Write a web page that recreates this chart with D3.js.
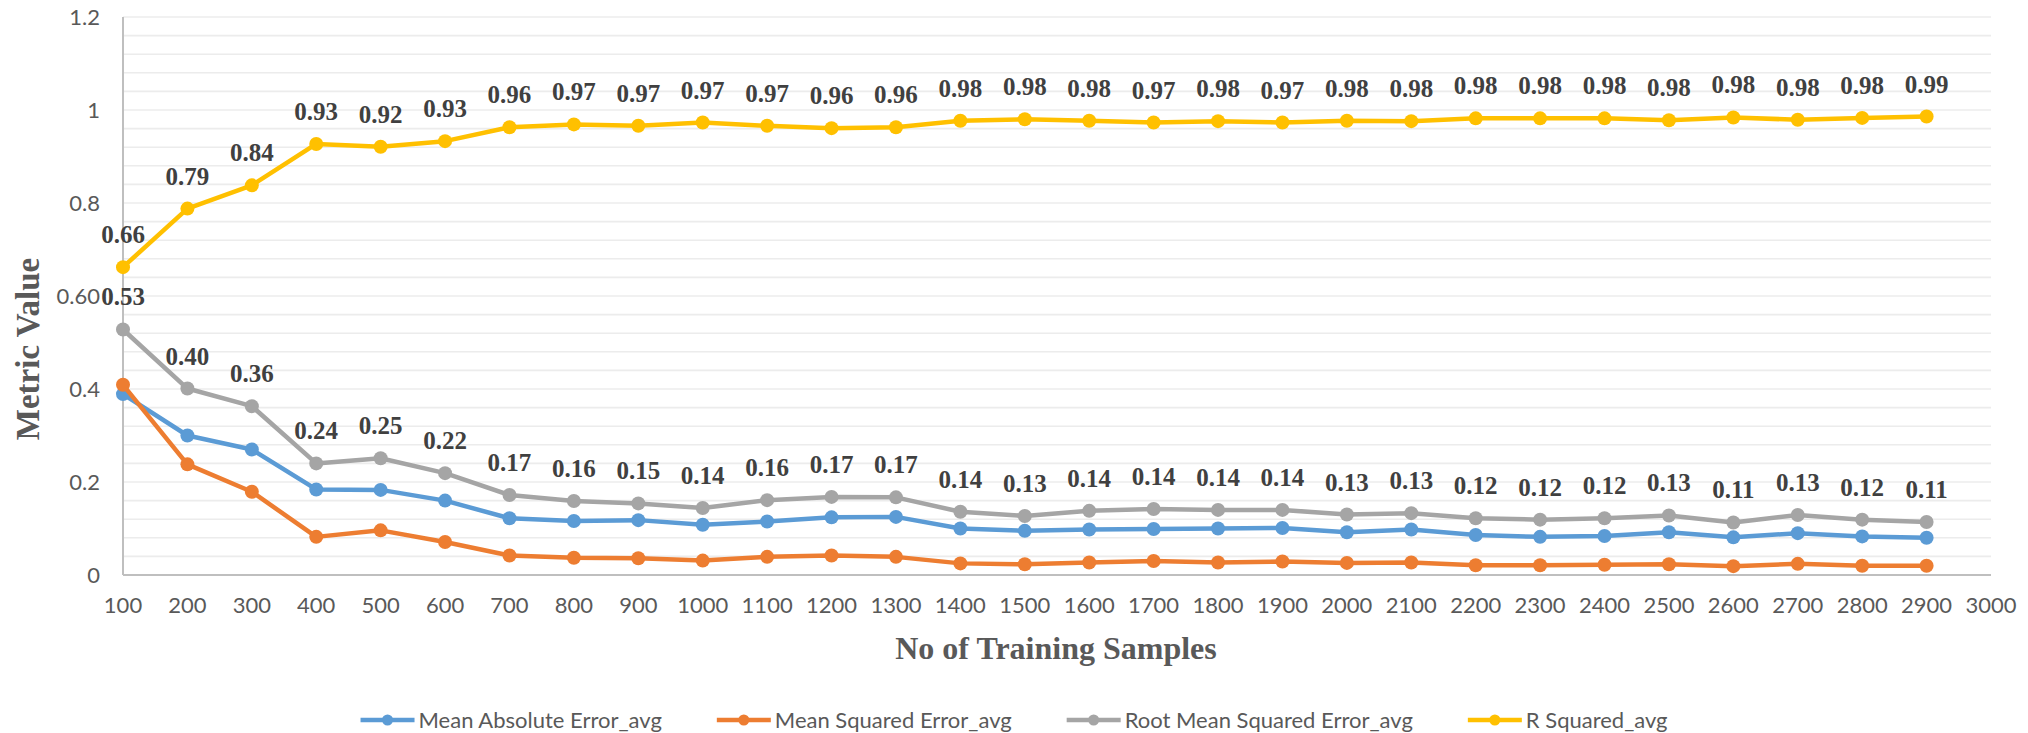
<!DOCTYPE html>
<html>
<head>
<meta charset="utf-8">
<script src="https://cdn.jsdelivr.net/npm/d3@7"></script>
<style>
  body { margin: 0; background: #fff; }
</style>
</head>
<body>
<div id="my_dataviz"></div>
<script>
// sample sizes (x categories) and axis tick labels
var samples = [100, 200, 300, 400, 500, 600, 700, 800, 900, 1000, 1100, 1200, 1300, 1400, 1500,
    1600, 1700, 1800, 1900, 2000, 2100, 2200, 2300, 2400, 2500, 2600, 2700, 2800, 2900];
var xTicks = [100, 200, 300, 400, 500, 600, 700, 800, 900, 1000, 1100, 1200, 1300, 1400, 1500,
    1600, 1700, 1800, 1900, 2000, 2100, 2200, 2300, 2400, 2500, 2600, 2700, 2800, 2900, 3000];
var yTicks = [0, 0.2, 0.4, 0.6, 0.8, 1, 1.2];
var yTickLabels = ["0", "0.2", "0.4", "0.60", "0.8", "1", "1.2"];

var maeAvg = [0.389, 0.300, 0.270, 0.184, 0.183, 0.160, 0.122, 0.116, 0.118, 0.108, 0.115, 0.124, 0.125, 0.100, 0.095,
    0.098, 0.099, 0.100, 0.101, 0.092, 0.098, 0.086, 0.082, 0.084, 0.092, 0.081, 0.090, 0.083, 0.080];
var mseAvg = [0.409, 0.238, 0.179, 0.082, 0.096, 0.071, 0.042, 0.037, 0.036, 0.031, 0.039, 0.042, 0.039, 0.025, 0.023,
    0.027, 0.030, 0.027, 0.029, 0.026, 0.027, 0.021, 0.021, 0.022, 0.023, 0.019, 0.024, 0.020, 0.020];
var rmseAvg = [0.528, 0.401, 0.363, 0.240, 0.251, 0.219, 0.172, 0.159, 0.154, 0.144, 0.161, 0.168, 0.167, 0.136, 0.127,
    0.138, 0.142, 0.140, 0.140, 0.130, 0.133, 0.122, 0.119, 0.122, 0.128, 0.113, 0.129, 0.119, 0.114];
var r2Avg = [0.662, 0.788, 0.838, 0.927, 0.921, 0.933, 0.963, 0.969, 0.966, 0.973, 0.966, 0.961, 0.963, 0.977, 0.980,
    0.977, 0.973, 0.976, 0.973, 0.977, 0.976, 0.982, 0.982, 0.982, 0.978, 0.984, 0.979, 0.983, 0.986];

var seriesNames = ["Mean Absolute Error_avg", "Mean Squared Error_avg", "Root Mean Squared Error_avg", "R Squared_avg"];
var seriesColors = ["#5B9BD5", "#ED7D31", "#A5A5A5", "#FFC000"];

var width = 2028,
    height = 733,
    plotLeft = 123,
    plotRight = 1991,
    plotTop = 17,
    plotBottom = 575;

var series = [maeAvg, mseAvg, rmseAvg, r2Avg].map(function (vals, i) {
    return {
        name: seriesNames[i],
        color: seriesColors[i],
        labels: i >= 2,     // only RMSE and R squared get data labels
        values: vals.map(function (v, j) { return {x: samples[j], y: v}; })
    };
});

var svg = d3.select("#my_dataviz")
    .append("svg")
    .attr("width", width)
    .attr("height", height)
    .style("display", "block");

var x = d3.scaleLinear()
    .domain([100, 3000])
    .range([plotLeft, plotRight]);

var y = d3.scaleLinear()
    .domain([0, 1.2])
    .range([plotBottom, plotTop]);

// horizontal gridlines every 0.04
var grid = d3.range(1, 31).map(function (i) { return i * 0.04; });
svg.append("g")
    .selectAll("line")
    .data(grid)
    .enter()
    .append("line")
    .attr("x1", plotLeft)
    .attr("x2", plotRight)
    .attr("y1", function (d) { return y(d); })
    .attr("y2", function (d) { return y(d); })
    .attr("stroke", "#ececec")
    .attr("stroke-width", 1.6);

// axes lines
svg.append("line")
    .attr("x1", plotLeft).attr("x2", plotLeft)
    .attr("y1", y(1.2)).attr("y2", plotBottom)
    .attr("stroke", "#bfbfbf").attr("stroke-width", 2);
svg.append("line")
    .attr("x1", plotLeft).attr("x2", plotRight)
    .attr("y1", plotBottom).attr("y2", plotBottom)
    .attr("stroke", "#bfbfbf").attr("stroke-width", 2);

// y tick labels
svg.append("g")
    .selectAll("text")
    .data(yTicks)
    .enter()
    .append("text")
    .attr("x", 100)
    .attr("y", function (d) { return y(d); })
    .attr("dy", "0.35em")
    .attr("text-anchor", "end")
    .style("font-family", "Lato, 'Open Sans', sans-serif")
    .style("font-size", "22px")
    .style("fill", "#595959")
    .text(function (d, i) { return yTickLabels[i]; });

// x tick labels
svg.append("g")
    .selectAll("text")
    .data(xTicks)
    .enter()
    .append("text")
    .attr("x", function (d) { return x(d); })
    .attr("y", 613)
    .attr("text-anchor", "middle")
    .style("font-family", "Lato, 'Open Sans', sans-serif")
    .style("font-size", "22px")
    .style("fill", "#595959")
    .text(function (d) { return d; });

// axis titles
svg.append("text")
    .attr("x", 1056)
    .attr("y", 659)
    .attr("text-anchor", "middle")
    .style("font-family", "'Liberation Serif', 'Times New Roman', serif")
    .style("font-weight", "bold")
    .style("font-size", "32px")
    .style("fill", "#595959")
    .text("No of Training Samples");

svg.append("text")
    .attr("transform", "translate(39,349) rotate(-90)")
    .attr("text-anchor", "middle")
    .style("font-family", "'Liberation Serif', 'Times New Roman', serif")
    .style("font-weight", "bold")
    .style("font-size", "33px")
    .style("fill", "#595959")
    .text("Metric Value");

var line = d3.line()
    .x(function (d) { return x(d.x); })
    .y(function (d) { return y(d.y); });

var fmt = d3.format(".2f");

series.forEach(function (s) {
    var g = svg.append("g");
    g.append("path")
        .datum(s.values)
        .attr("d", line)
        .attr("fill", "none")
        .attr("stroke", s.color)
        .attr("stroke-width", 4.5)
        .attr("stroke-linejoin", "round");
    g.selectAll("circle")
        .data(s.values)
        .enter()
        .append("circle")
        .attr("cx", function (d) { return x(d.x); })
        .attr("cy", function (d) { return y(d.y); })
        .attr("r", 7)
        .attr("fill", s.color);
});

// data labels drawn last so they sit on top
series.filter(function (s) { return s.labels; }).forEach(function (s) {
    svg.append("g")
        .selectAll("text")
        .data(s.values)
        .enter()
        .append("text")
        .attr("x", function (d) { return x(d.x); })
        .attr("y", function (d) { return y(d.y) - 24; })
        .attr("text-anchor", "middle")
        .style("font-family", "'Liberation Serif', 'Times New Roman', serif")
        .style("font-weight", "bold")
        .style("font-size", "25px")
        .style("fill", "#404040")
        .text(function (d) { return fmt(d.y); });
});

// legend
var legend = svg.append("g");
var items = legend.selectAll("g")
    .data(series)
    .enter()
    .append("g");
items.append("line")
    .attr("x1", 0).attr("x2", 54)
    .attr("y1", 0).attr("y2", 0)
    .attr("stroke", function (d) { return d.color; })
    .attr("stroke-width", 4.5);
items.append("circle")
    .attr("cx", 27).attr("cy", 0).attr("r", 5.5)
    .attr("fill", function (d) { return d.color; });
items.append("text")
    .attr("x", 58)
    .attr("y", 0)
    .attr("dy", "0.35em")
    .style("font-family", "Lato, 'Open Sans', sans-serif")
    .style("font-size", "22px")
    .style("fill", "#595959")
    .text(function (d) { return d.name; });

var pos = 0;
items.each(function () {
    var w = this.getBBox().width;
    d3.select(this).attr("transform", "translate(" + pos + ",0)");
    pos += w + 55;
});
var total = pos - 55;
legend.attr("transform", "translate(" + (1014 - total / 2) + ",720)");
</script>
</body>
</html>
